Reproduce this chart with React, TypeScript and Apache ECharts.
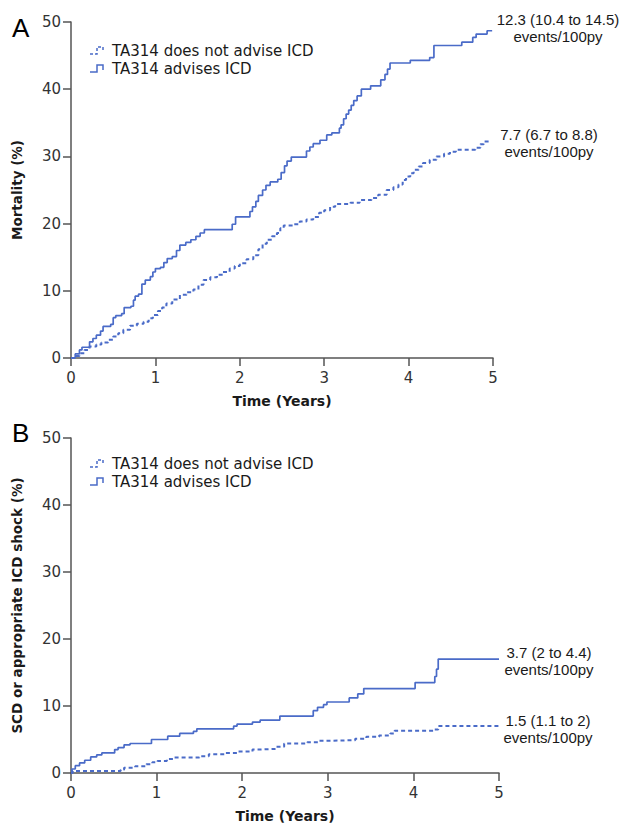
import React, { useEffect, useRef } from "react";
import * as echarts from "echarts";

const SERIES_NAMES = ["TA314 does not advise ICD", "TA314 advises ICD"];
const X_TICKS = [0, 1, 2, 3, 4, 5];
const Y_TICKS = [0, 10, 20, 30, 40, 50];

// Panel A: mortality (%), [years, %]
const mortalityAdvises: [number, number][] = [
  [0, 0], [0.05, 0.6], [0.1, 1.2], [0.13, 1.6], [0.22, 2.4], [0.26, 2.9], [0.3, 3.4], [0.35, 4.0],
  [0.38, 4.7], [0.47, 5.0], [0.5, 6.0], [0.53, 6.3], [0.6, 6.6], [0.63, 7.5], [0.71, 7.7], [0.74, 8.6],
  [0.76, 9.2], [0.8, 9.5], [0.84, 11.0], [0.88, 11.6], [0.94, 12.1], [0.97, 12.8], [1.0, 13.3],
  [1.06, 13.5], [1.1, 14.2], [1.14, 14.8], [1.2, 15.1], [1.25, 16.0], [1.29, 16.8], [1.36, 17.2],
  [1.42, 17.6], [1.48, 18.1], [1.53, 18.6], [1.58, 19.1], [1.91, 19.9], [1.95, 21.0], [2.12, 21.8],
  [2.15, 22.5], [2.19, 23.3], [2.22, 24.2], [2.27, 25.0], [2.31, 25.7], [2.36, 26.2], [2.45, 26.6],
  [2.49, 27.6], [2.53, 28.6], [2.56, 29.3], [2.61, 29.9], [2.79, 30.8], [2.83, 31.4], [2.87, 31.9],
  [2.95, 32.4], [3.03, 33.2], [3.09, 33.5], [3.18, 34.2], [3.2, 34.7], [3.23, 35.6], [3.26, 36.3],
  [3.29, 36.9], [3.32, 37.6], [3.35, 38.3], [3.39, 39.0], [3.44, 40.0], [3.55, 40.5], [3.67, 41.4],
  [3.72, 42.2], [3.75, 43.0], [3.78, 43.9], [4.02, 44.3], [4.25, 44.7], [4.3, 46.5], [4.63, 47.0],
  [4.76, 47.7], [4.8, 48.2], [4.93, 48.7], [4.99, 48.7],
];
const mortalityNotAdvise: [number, number][] = [
  [0, 0], [0.05, 0.3], [0.1, 0.7], [0.16, 1.2], [0.22, 1.7], [0.3, 2.0], [0.36, 2.3], [0.44, 2.7],
  [0.5, 3.2], [0.56, 3.7], [0.62, 4.2], [0.7, 4.8], [0.78, 5.1], [0.86, 5.4], [0.92, 5.9], [0.97, 6.4],
  [1.03, 7.0], [1.08, 7.5], [1.13, 8.1], [1.2, 8.7], [1.29, 9.4], [1.37, 9.8], [1.45, 10.2],
  [1.51, 10.9], [1.57, 11.6], [1.65, 12.0], [1.73, 12.4], [1.8, 12.8], [1.88, 13.3], [1.94, 13.7],
  [2.0, 14.1], [2.08, 14.7], [2.16, 15.3], [2.22, 16.2], [2.27, 17.0], [2.32, 17.6], [2.38, 18.1],
  [2.44, 18.6], [2.48, 19.3], [2.52, 19.7], [2.63, 19.9], [2.71, 20.3], [2.79, 20.6], [2.87, 21.0],
  [2.94, 21.6], [3.0, 22.0], [3.07, 22.5], [3.13, 22.9], [3.31, 23.1], [3.42, 23.5], [3.56, 23.8],
  [3.64, 24.3], [3.74, 25.0], [3.82, 25.4], [3.88, 25.8], [3.93, 26.5], [3.97, 27.0], [4.02, 27.5],
  [4.06, 28.0], [4.12, 28.5], [4.17, 29.0], [4.25, 29.5], [4.33, 30.0], [4.42, 30.4], [4.49, 30.7],
  [4.56, 31.0], [4.79, 31.3], [4.85, 31.8], [4.89, 32.2], [4.98, 32.2],
];

// Panel B: SCD or appropriate ICD shock (%), [years, %]
const scdAdvises: [number, number][] = [
  [0, 0], [0.01, 0.6], [0.05, 1.1], [0.1, 1.5], [0.16, 1.9], [0.23, 2.4], [0.3, 2.7], [0.36, 3.0],
  [0.51, 3.5], [0.55, 3.8], [0.62, 4.2], [0.69, 4.4], [0.94, 5.0], [1.13, 5.5], [1.27, 5.9],
  [1.43, 6.2], [1.47, 6.6], [1.9, 7.0], [1.94, 7.3], [2.12, 7.6], [2.21, 7.9], [2.44, 8.5],
  [2.83, 9.3], [2.88, 9.8], [2.95, 10.2], [2.99, 10.6], [3.25, 11.2], [3.35, 11.8], [3.42, 12.6],
  [4.02, 13.5], [4.25, 14.4], [4.27, 15.5], [4.29, 17.0], [5.0, 17.0],
];
const scdNotAdvise: [number, number][] = [
  [0, 0], [0.02, 0.3], [0.58, 0.5], [0.62, 0.8], [0.75, 1.0], [0.88, 1.3], [0.95, 1.6], [1.01, 1.8],
  [1.12, 2.1], [1.2, 2.3], [1.5, 2.5], [1.61, 2.8], [1.8, 3.0], [1.94, 3.2], [2.12, 3.5], [2.2, 3.6],
  [2.4, 3.9], [2.49, 4.4], [2.76, 4.6], [2.9, 4.8], [2.99, 4.9], [3.32, 5.1], [3.45, 5.4],
  [3.6, 5.6], [3.73, 5.9], [3.78, 6.3], [4.24, 6.5], [4.29, 7.0], [5.0, 7.0],
];

const ANNOT_A = [
  ["12.3 (10.4 to 14.5)", "events/100py"],
  ["7.7 (6.7 to 8.8)", "events/100py"],
];
const ANNOT_B = [
  ["3.7 (2 to 4.4)", "events/100py"],
  ["1.5 (1.1 to 2)", "events/100py"],
];

const BLUE = "#4A6BC8";
const AXIS = "#555555";
const TXT = "#1a1a1a";
const SANS = "DejaVu Sans";

export default function App() {
  const ref = useRef<HTMLDivElement>(null);
  useEffect(() => {
    if (!ref.current) return;
    const chart = echarts.init(ref.current, undefined, { renderer: "svg" });

    const xAxisBase = (gridIndex: number) => ({
      type: "value" as const,
      gridIndex,
      min: X_TICKS[0],
      max: X_TICKS[X_TICKS.length - 1],
      interval: 1,
      name: "Time (Years)",
      nameLocation: "middle" as const,
      nameGap: 36,
      nameTextStyle: { fontFamily: SANS, fontWeight: "bold", fontSize: 14, color: TXT },
      axisLine: { lineStyle: { color: AXIS, width: 1.5 } },
      axisTick: { inside: false, length: 8, lineStyle: { color: AXIS, width: 1.5 } },
      axisLabel: { fontFamily: SANS, fontSize: 15, color: "#333", margin: 12 },
      splitLine: { show: false },
    });
    const yAxisBase = (gridIndex: number, name: string) => ({
      type: "value" as const,
      gridIndex,
      min: Y_TICKS[0],
      max: Y_TICKS[Y_TICKS.length - 1],
      interval: 10,
      name,
      nameLocation: "middle" as const,
      nameRotate: 90,
      nameGap: 47,
      nameTextStyle: { fontFamily: SANS, fontWeight: "bold", fontSize: 13.5, color: TXT },
      axisLine: { show: true, lineStyle: { color: AXIS, width: 1.5 } },
      axisTick: { show: true, inside: false, length: 8, lineStyle: { color: AXIS, width: 1.5 } },
      axisLabel: { fontFamily: SANS, fontSize: 15, color: "#333", margin: 10 },
      splitLine: { show: false },
    });

    const lineSeries = (name: string, data: [number, number][], idx: number, dashed: boolean) => ({
      type: "line" as const,
      name,
      xAxisIndex: idx,
      yAxisIndex: idx,
      data,
      step: "end" as const,
      showSymbol: false,
      symbol: "none",
      lineStyle: { color: BLUE, width: dashed ? 2 : 1.7, type: dashed ? [4, 3] : "solid" },
      itemStyle: { color: BLUE },
    });

    const legendGroup = (y1: number, y2: number) => [
      {
        type: "polyline",
        shape: { points: [[90, y1 + 3], [97, y1 + 3], [97, y1 - 4], [103, y1 - 4], [103, y1 + 1]] },
        style: { stroke: BLUE, lineWidth: 1.5, fill: null, lineDash: [3, 2] },
      },
      {
        type: "text",
        x: 112,
        y: y1,
        style: { text: SERIES_NAMES[0], font: `15px "${SANS}"`, fill: TXT, textVerticalAlign: "middle" },
      },
      {
        type: "polyline",
        shape: { points: [[90, y2 + 3], [97, y2 + 3], [97, y2 - 4], [103, y2 - 4], [103, y2 + 1]] },
        style: { stroke: BLUE, lineWidth: 1.5, fill: null },
      },
      {
        type: "text",
        x: 112,
        y: y2,
        style: { text: SERIES_NAMES[1], font: `15px "${SANS}"`, fill: TXT, textVerticalAlign: "middle" },
      },
    ];

    const annot = (lines: string[], cx: number, y: number) => ({
      type: "text",
      x: cx,
      y,
      style: {
        text: lines.join("\n"),
        font: '15px "Liberation Sans"',
        lineHeight: 17,
        fill: TXT,
        textAlign: "center",
        textVerticalAlign: "top",
      },
    });

    chart.setOption({
      animation: false,
      backgroundColor: "#ffffff",
      grid: [
        { left: 71, top: 22, width: 422, height: 336 },
        { left: 71, top: 438, width: 428, height: 335 },
      ],
      xAxis: [xAxisBase(0), xAxisBase(1)],
      yAxis: [yAxisBase(0, "Mortality (%)"), yAxisBase(1, "SCD or appropriate ICD shock (%)")],
      series: [
        lineSeries(SERIES_NAMES[0], mortalityNotAdvise, 0, true),
        lineSeries(SERIES_NAMES[1], mortalityAdvises, 0, false),
        lineSeries(SERIES_NAMES[0], scdNotAdvise, 1, true),
        lineSeries(SERIES_NAMES[1], scdAdvises, 1, false),
      ],
      graphic: [
        { type: "text", x: 12, y: 15, style: { text: "A", font: '26px "Liberation Sans"', fill: "#000" } },
        { type: "text", x: 12, y: 420, style: { text: "B", font: '26px "Liberation Sans"', fill: "#000" } },
        ...legendGroup(51, 69),
        ...legendGroup(464, 482),
        annot(ANNOT_A[0], 558, 11),
        annot(ANNOT_A[1], 549, 126),
        annot(ANNOT_B[0], 549, 644),
        annot(ANNOT_B[1], 548, 712),
      ],
    });
    return () => chart.dispose();
  }, []);
  return (
    <div
      ref={ref}
      style={{ position: "absolute", left: 0, top: 0, width: 619, height: 825, background: "#fff" }}
    />
  );
}
